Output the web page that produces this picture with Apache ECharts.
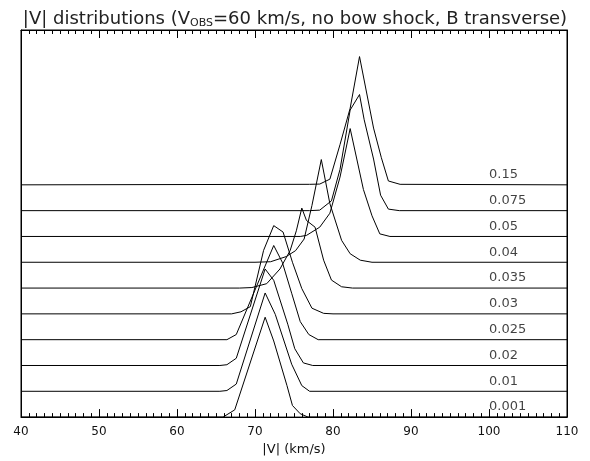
<!DOCTYPE html>
<html>
<head>
<meta charset="utf-8">
<script src="https://cdn.jsdelivr.net/npm/echarts@6/dist/echarts.min.js"></script>
<style>
html,body{margin:0;padding:0;background:#fff;}
#chart{width:590px;height:461px;}
</style>
</head>
<body>
<div id="chart"></div>
<script>
// Curve labels (bottom to top) and their vertical offsets (in plot units)
const curveLabels = ['0.001','0.01','0.02','0.025','0.03','0.035','0.04','0.05','0.075','0.15'];
const curveOffsets = [0, 1, 2, 3, 4, 5, 6, 7, 8, 9];

// |V| samples (km/s) and relative heights
const v_0001 = [40, 65.9, 67.4, 71.3, 72.4, 74.1, 74.8, 75.8, 76.8, 110];
const h_0001 = [0, 0, 0.28, 3.87, 2.95, 1.22, 0.45, 0.13, 0, 0];

const v_001 = [40, 65.5, 66.4, 67.6, 71.3, 72.6, 74.7, 76.0, 77.0, 110];
const h_001 = [0, 0, 0.03, 0.28, 3.81, 2.98, 1.05, 0.22, 0, 0];

const v_002 = [40, 65.5, 66.4, 67.6, 71.3, 72.4, 74.2, 75.1, 76.2, 77.4, 110];
const h_002 = [0, 0, 0.03, 0.28, 3.74, 3.3, 1.6, 0.65, 0.1, 0, 0];

const v_0025 = [40, 66.4, 67.6, 72.4, 73.5, 74.7, 75.8, 76.9, 78.1, 110];
const h_0025 = [0, 0, 0.2, 3.65, 3.0, 1.8, 0.7, 0.2, 0, 0];

const v_003 = [40, 67, 68.2, 69.4, 71.1, 72.4, 73.6, 74.8, 76.0, 77.3, 78.8, 80, 110];
const h_003 = [0, 0, 0.08, 0.28, 2.46, 3.42, 3.17, 2.0, 0.98, 0.22, 0.02, 0, 0];

const v_0035 = [40, 68, 69.6, 71.5, 73.2, 74.5, 75.3, 76.0, 76.6, 77.7, 78.8, 79.8, 81.1, 82.5, 110];
const h_0035 = [0, 0, 0.02, 0.17, 0.74, 1.45, 2.22, 3.1, 2.62, 2.36, 1.08, 0.31, 0.05, 0, 0];

const v_004 = [40, 70, 72, 74, 75.2, 76.3, 77.3, 78.5, 79.6, 81.1, 82.2, 83.5, 85, 110];
const h_004 = [0, 0, 0.02, 0.22, 0.45, 0.9, 2.2, 3.98, 2.27, 0.85, 0.33, 0.08, 0, 0];

const v_005 = [40, 75.8, 76.6, 78.3, 79.6, 80.9, 82.2, 83.9, 85.0, 86.0, 87.3, 110];
const h_005 = [0, 0, 0.04, 0.36, 0.9, 2.3, 4.18, 1.82, 0.8, 0.1, 0, 0];

const v_0075 = [40, 77, 78.3, 79.8, 80.9, 82.2, 83.4, 84.0, 85.2, 86.1, 87.1, 88.5, 110];
const h_0075 = [0, 0, 0.02, 0.38, 1.6, 3.9, 4.5, 3.52, 2.0, 0.6, 0.06, 0, 0];

const v_015 = [40, 77, 78.3, 79.6, 80.9, 82.2, 83.4, 85.2, 86.2, 87.1, 88.6, 110];
const h_015 = [0, 0.02, 0.03, 0.22, 1.56, 2.97, 4.97, 2.2, 1.05, 0.15, 0.02, 0];

const curveV = [v_0001, v_001, v_002, v_0025, v_003, v_0035, v_004, v_005, v_0075, v_015];
const curveH = [h_0001, h_001, h_002, h_0025, h_003, h_0035, h_004, h_005, h_0075, h_015];

// Axis settings
const xMin = 40, xMax = 110, xStep = 10;
const yMin = 0, yMax = 15;
const labelV = 100;

const FONT = 'DejaVu Sans';

const series = curveLabels.map((lab, i) => ({
  name: lab,
  type: 'line',
  showSymbol: false,
  symbol: 'none',
  animation: false,
  lineStyle: { color: '#000', width: 1 },
  data: curveV[i].map((v, k) => [v, curveH[i][k] + curveOffsets[i]]),
  z: 3
}));

series.push({
  type: 'scatter',
  symbolSize: 0,
  animation: false,
  silent: true,
  data: curveLabels.map((lab, i) => ({ value: [labelV, curveOffsets[i]], name: lab })),
  label: {
    show: true,
    formatter: p => p.name,
    position: [0, -10],
    align: 'left',
    verticalAlign: 'middle',
    fontFamily: FONT,
    fontSize: 13,
    color: '#111'
  },
  z: 4
});

const xAxisCommon = {
  type: 'value', min: xMin, max: xMax, interval: xStep,
  axisLine: { show: true, onZero: false, lineStyle: { color: '#000', width: 1 } },
  axisTick: { show: true, inside: true, length: 8, lineStyle: { color: '#000' } },
  minorTick: { show: true, splitNumber: 10, length: 4, lineStyle: { color: '#000' } },
  splitLine: { show: false }
};

const chart = echarts.init(document.getElementById('chart'), null, { renderer: 'canvas' });
chart.setOption({
  animation: false,
  backgroundColor: '#fff',
  title: {
    text: '|V| distributions (V{sub|OBS}=60 km/s, no bow shock, B transverse)',
    left: 'center',
    top: 4,
    textStyle: {
      fontFamily: FONT,
      fontSize: 18,
      fontWeight: 'normal',
      color: '#222',
      rich: {
        sub: { fontFamily: FONT, fontSize: 11, verticalAlign: 'bottom', padding: [9, 0, 0, 0], color: '#222' }
      }
    }
  },
  grid: { left: 21, right: 23, top: 30, bottom: 41, show: true, borderColor: '#000', borderWidth: 1, backgroundColor: 'transparent' },
  xAxis: [
    Object.assign({}, xAxisCommon, {
      position: 'bottom',
      name: '|V| (km/s)', nameLocation: 'middle', nameGap: 25,
      nameTextStyle: { fontFamily: FONT, fontSize: 13, color: '#111' },
      axisLabel: { margin: 9, fontFamily: FONT, fontSize: 12, color: '#111' }
    }),
    Object.assign({}, xAxisCommon, {
      position: 'top',
      axisLabel: { show: false }
    })
  ],
  yAxis: [
    {
      type: 'value', min: yMin, max: yMax, position: 'left',
      axisLine: { show: true, onZero: false, lineStyle: { color: '#000' } },
      axisTick: { show: false }, axisLabel: { show: false }, splitLine: { show: false }
    },
    {
      type: 'value', min: yMin, max: yMax, position: 'right',
      axisLine: { show: true, onZero: false, lineStyle: { color: '#000' } },
      axisTick: { show: false }, axisLabel: { show: false }, splitLine: { show: false }
    }
  ],
  series: series
});
</script>
</body>
</html>
